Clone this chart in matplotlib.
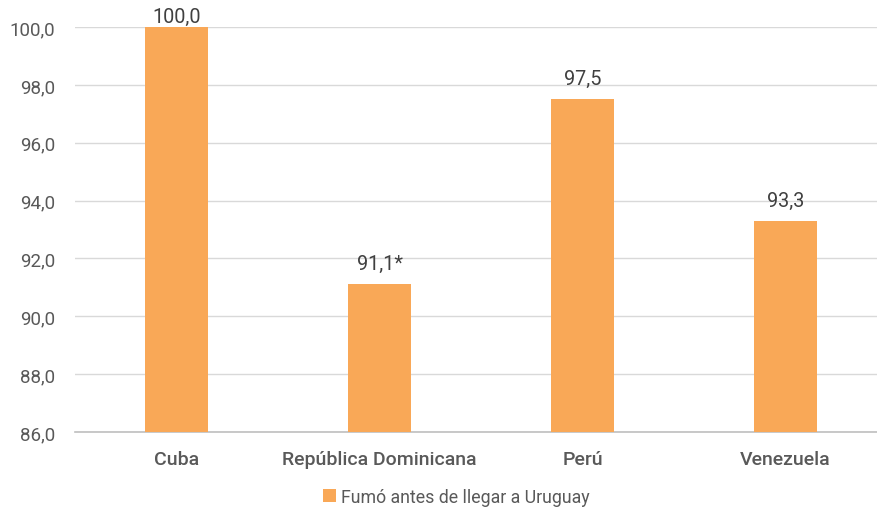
import matplotlib.pyplot as plt
import numpy as np

categories = ["Cuba", "República Dominicana", "Perú", "Venezuela"]
values = [100.0, 91.1, 97.5, 93.3]
value_labels = ["100,0", "91,1*", "97,5", "93,3"]
series_name = "Fumó antes de llegar a Uruguay"
yticks = [86, 88, 90, 92, 94, 96, 98, 100]

plt.rcParams['font.family'] = ['Roboto', 'DejaVu Sans']
gray = "#595959"
bar_color = "#F9A857"

fig = plt.figure(figsize=(8.78, 5.10), dpi=100)
ax = fig.add_axes([0.0854, 0.151, 0.9146, 0.794])

x = np.arange(len(categories))
bars = ax.bar(x, values, width=0.31, color=bar_color, zorder=3, label=series_name)

# labels sit above the bars, but stay inside the plot area at the top (like Excel)
for xi, v, lab in zip(x, values, value_labels):
    off = 8 if v >= 99.5 else 15
    ax.annotate(lab, (xi, v), xytext=(0, off), textcoords="offset points",
                ha="center", va="center", fontsize=14.3, color="#404040", zorder=4)

ax.set_ylim(86, 100)
ax.set_xlim(-0.5, -0.5 + 803 / 203)
ax.set_yticks(yticks)
ax.set_yticklabels([f"{t:.1f}".replace(".", ",") for t in yticks], fontsize=13.5, color=gray)
ax.set_xticks(x)
ax.set_xticklabels(categories, fontsize=14, color=gray, fontweight="medium")
ax.tick_params(axis="both", length=0)
ax.tick_params(axis="x", pad=13)
ax.tick_params(axis="y", pad=14)

ax.grid(axis="y", color="#D9D9D9", linewidth=1, zorder=0)
for s in ["top", "right", "left"]:
    ax.spines[s].set_visible(False)
ax.spines["bottom"].set_color("#BFBFBF")
ax.spines["bottom"].set_linewidth(1.2)

leg = fig.legend(handles=[bars], labels=[series_name], loc="lower center",
                 bbox_to_anchor=(0.52, -0.025), frameon=False, fontsize=12.8,
                 handlelength=0.7, handleheight=0.7, handletextpad=0.3)
for t in leg.get_texts():
    t.set_color(gray)

fig.savefig("out.png", dpi=100)
